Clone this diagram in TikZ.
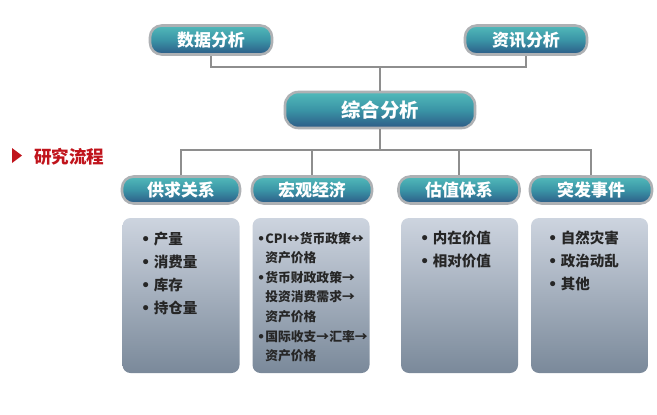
\documentclass[tikz,border=0pt]{standalone}
\usepackage{fontspec}
\setmainfont{Noto Sans CJK SC}
\newfontfamily\symfont{DejaVu Sans}
\newcommand{\bul}{{\symfont •}}
\usetikzlibrary{positioning}

\definecolor{headtop}{HTML}{52BABA}
\definecolor{headmid}{HTML}{3A94A6}
\definecolor{headbot}{HTML}{2C5A86}
\definecolor{framegray}{HTML}{AEB1B4}
\definecolor{linegray}{HTML}{8E8E8E}
\definecolor{boxtop}{HTML}{CDD4DF}
\definecolor{boxbot}{HTML}{7A899A}
\definecolor{titlered}{HTML}{C0141C}

\tikzset{
  head/.style={rounded corners=3.5mm, draw=framegray, line width=2.2pt,
    top color=headtop, bottom color=headbot, middle color=headmid,
    text=white, inner sep=0pt,
    font=\bfseries\fontsize{14.5}{16}\selectfont},
  panel/.style={rounded corners=2.4mm, top color=boxtop, bottom color=boxbot,
    minimum width=35.1mm, minimum height=46.5mm, inner sep=0pt},
  items/.style={anchor=north west, align=left, inner sep=0pt, text=black!85},
  link/.style={draw=linegray, line width=1pt},
}

\begin{document}
\begin{tikzpicture}[x=0.3mm, y=-0.3mm]
    \useasboundingbox (0,0) rectangle (657,414);

    %Nodes
    \node[head, minimum width=36.6mm, minimum height=8.7mm] at (211,40)  (data) {数据分析};
    \node[head, minimum width=36.6mm, minimum height=8.7mm] at (526,40)  (info) {资讯分析};
    \node[head, minimum width=57mm, minimum height=10.8mm, rounded corners=4mm,
          font=\bfseries\fontsize{16.5}{18}\selectfont] at (380,110) (synth) {综合分析};

    \node[head, minimum width=35.4mm, minimum height=8.1mm] at (181,190)   (supply) {供求关系};
    \node[head, minimum width=36mm,   minimum height=8.1mm] at (312,190)   (macro)  {宏观经济};
    \node[head, minimum width=36.3mm, minimum height=8.1mm] at (459,190)   (value)  {估值体系};
    \node[head, minimum width=36.6mm, minimum height=8.1mm] at (591,190)   (event)  {突发事件};

    \node[panel] at (181,295.5)   (supplybox) {};
    \node[panel] at (311,295.5)   (macrobox)  {};
    \node[panel] at (459.5,295.5) (valuebox)  {};
    \node[panel] at (589.5,295.5) (eventbox)  {};

    \node[items, font=\bfseries\fontsize{12.4}{19.6}\selectfont] at (141,232) (supplytext)
        {\bul\ 产量\\\bul\ 消费量\\\bul\ 库存\\\bul\ 持仓量};
    \node[items, font=\bfseries\fontsize{10.9}{16.7}\selectfont] at (257,232) (macrotext)
        {\bul CPI↔货币政策↔\\\phantom{\bul}资产价格\\\bul 货币财政政策→\\\phantom{\bul}投资消费需求→\\\phantom{\bul}资产价格\\\bul 国际收支→汇率→\\\phantom{\bul}资产价格};
    \node[items, font=\bfseries\fontsize{12.4}{19.6}\selectfont] at (420,231) (valuetext)
        {\bul\ 内在价值\\\bul\ 相对价值};
    \node[items, font=\bfseries\fontsize{12.4}{19.6}\selectfont] at (548,231) (eventtext)
        {\bul\ 自然灾害\\\bul\ 政治动乱\\\bul\ 其他};

    \fill[titlered] (12,148) -- (22,155.5) -- (12,163) -- cycle;
    \node[anchor=west, inner sep=0pt, text=titlered,
          font=\bfseries\fontsize{15}{17}\selectfont] at (34,157) (title) {研究流程};

    \coordinate (top) at (380,67);
    \coordinate (bus) at (380,150);

    %Lines
    \draw[link] (data.south)   |- (top) -| (info.south);
    \draw[link] (top)          -- (synth.north);
    \draw[link] (synth.south)  -- (bus);
    \draw[link] (supply.north) |- (bus) -| (event.north);
    \draw[link] (macro.north)  -- (macro.north |- bus);
    \draw[link] (value.north)  -- (value.north |- bus);
\end{tikzpicture}
\end{document}
